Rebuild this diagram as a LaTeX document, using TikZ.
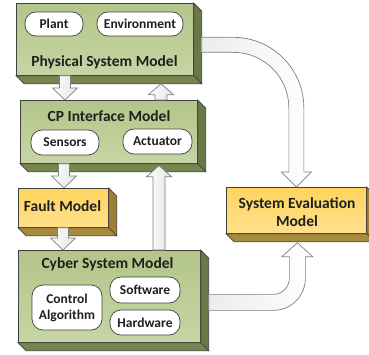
\documentclass[tikz,border=0pt]{standalone}
\usepackage{fontspec}
\setmainfont{Carlito}
\usetikzlibrary{calc}
\definecolor{edge}{HTML}{404040}
\definecolor{gtop}{HTML}{B3C589}
\definecolor{gbot}{HTML}{C6D5A4}
\definecolor{gside}{HTML}{6B7845}
\definecolor{gunder}{HTML}{77854F}
\definecolor{ytop}{HTML}{FFD45E}
\definecolor{ybot}{HTML}{FFE08C}
\definecolor{yside}{HTML}{9E8034}
\definecolor{yunder}{HTML}{A88A3C}
\definecolor{txt}{HTML}{1F1F1F}
\definecolor{agray}{HTML}{7F7F7F}
\tikzset{
  box/.style={draw=edge, line width=0.7pt, inner sep=0pt, anchor=north west},
  gbox/.style={box, top color=gtop, bottom color=gbot},
  ybox/.style={box, top color=ytop, bottom color=ybot},
  pill/.style={draw=edge, fill=white, line width=0.7pt, rounded corners=11pt,
    inner sep=0pt, text=txt, align=center,
    font=\fontsize{13.5}{16}\selectfont\bfseries},
  title/.style={text=txt, align=center, inner sep=0pt,
    font=\fontsize{15.5}{18}\selectfont\bfseries},
  barrow/.style={draw=agray, line width=0.7pt, left color=white, right color=gray!22},
  carrow/.style={draw=agray, line width=0.7pt, left color=gray!15, right color=white},
}
\newcommand\extr[3]{%
  \path[fill=#3, draw=edge, line width=0.7pt] (#1.south west) -- ++(8,8)
     -- ($(#1.south east)+(8,8)$) -- (#1.south east) -- cycle;
  \path[fill=#2, draw=edge, line width=0.7pt] (#1.north east) -- ++(8,8)
     -- ($(#1.south east)+(8,8)$) -- (#1.south east) -- cycle;}
\newcommand\blkdn[2]{%
  \path[barrow] let \p1=(#1), \p2=(#2) in
    ({\x1-5.5pt},\y1) -- ({\x1-5.5pt},{\y2+12pt}) -- ({\x1-12.5pt},{\y2+12pt})
    -- (\x1,\y2) -- ({\x1+12.5pt},{\y2+12pt}) -- ({\x1+5.5pt},{\y2+12pt})
    -- ({\x1+5.5pt},\y1) -- cycle;}
\newcommand\blkup[2]{%
  \path[barrow] let \p1=(#1), \p2=(#2) in
    ({\x1-6pt},\y1) -- ({\x1-6pt},{\y2-11pt}) -- ({\x1-12.5pt},{\y2-11pt})
    -- (\x1,\y2) -- ({\x1+12.5pt},{\y2-11pt}) -- ({\x1+6pt},{\y2-11pt})
    -- ({\x1+6pt},\y1) -- cycle;}
\begin{document}
\begin{tikzpicture}[x=1pt, y=-1pt]
\useasboundingbox (0,0) rectangle (369,355);
% boxes
\node[gbox, minimum width=177pt, minimum height=72pt] (phys) at (16,3) {};
\extr{phys}{gside}{gunder}
\node[gbox, minimum width=177pt, minimum height=63pt] (cp) at (20,100) {};
\extr{cp}{gside}{gunder}
\node[ybox, minimum width=90pt, minimum height=39pt] (fault) at (18,188) {};
\extr{fault}{yside}{yunder}
\node[gbox, minimum width=182pt, minimum height=92pt] (cyber) at (18,250) {};
\extr{cyber}{gside}{gunder}
\node[ybox, minimum width=140pt, minimum height=46pt] (eval) at (226,187) {};
\extr{eval}{yside}{yunder}
% titles
\node[title, anchor=base] (physT) at (104.5,67) {Physical System Model};
\node[title, anchor=base] (cpT) at (109,122) {CP Interface Model};
\node[title, anchor=base] (faultT) at (62.5,212) {Fault Model};
\node[title, anchor=base] (cyberT) at (107.5,268) {Cyber System Model};
\node[title] (evalT) at (297,212) {System Evaluation\\Model};
% inner items
\node[pill, minimum width=58pt, minimum height=24pt] (plant) at (54,24) {Plant};
\node[pill, minimum width=86pt, minimum height=24pt] (env) at (140,24) {Environment};
\node[pill, minimum width=68pt, minimum height=25pt] (sens) at (65,142.5) {Sensors};
\node[pill, minimum width=69pt, minimum height=25pt] (act) at (157.5,141.5) {Actuator};
\node[pill, minimum width=70pt, minimum height=45pt] (ctrl) at (67,307.5) {Control\\Algorithm};
\node[pill, minimum width=70pt, minimum height=26pt] (soft) at (145,290) {Software};
\node[pill, minimum width=70pt, minimum height=25pt] (hard) at (145,322.5) {Hardware};
% vertical block arrows
\coordinate (a1s) at ($(phys.south west)+(49,0)$);
\blkdn{a1s}{a1s |- cp.north}
\coordinate (a2s) at ($(cp.north west)+(141,0)$);
\blkup{a2s}{$(a2s |- phys.south)+(0,8)$}
\coordinate (a3s) at ($(cp.south west)+(44,0)$);
\blkdn{a3s}{a3s |- fault.north}
\coordinate (a4s) at ($(fault.south west)+(45,0)$);
\blkdn{a4s}{a4s |- cyber.north}
\coordinate (a5s) at ($(cyber.north west)+(141,0)$);
\blkup{a5s}{$(a5s |- cp.south)+(0,2)$}
% curved arrow: physical -> evaluation
\path[carrow] let \p1=($(phys.east)+(8,5.5)$), \p2=(eval.north) in
  (\x1,{\y1+7.5pt}) -- ({\x2-63pt},{\y1+7.5pt})
  arc[start angle=90, end angle=0, radius=70.5pt]
  -- ({\x2+7.5pt},{\y2+15pt}) -- ({\x2+15pt},{\y2+15pt}) -- (\x2,\y2)
  -- ({\x2-15pt},{\y2+15pt}) -- ({\x2-7.5pt},{\y2+15pt})
  -- ({\x2-7.5pt},{\y1-63pt})
  arc[start angle=0, end angle=90, radius=55.5pt]
  -- (\x1,{\y1-7.5pt}) -- cycle;
% curved arrow: cyber -> evaluation
\path[carrow] let \p1=($(cyber.east)+(8,6)$), \p2=($(eval.south)+(1,9)$) in
  (\x1,{\y1-8pt}) -- ({\x2-24pt},{\y1-8pt})
  arc[start angle=-90, end angle=0, radius=32pt]
  -- ({\x2+8pt},{\y2-14pt}) -- ({\x2+15.5pt},{\y2-14pt}) -- (\x2,\y2)
  -- ({\x2-15.5pt},{\y2-14pt}) -- ({\x2-8pt},{\y2-14pt})
  -- ({\x2-8pt},{\y1+24pt})
  arc[start angle=0, end angle=-90, radius=16pt]
  -- (\x1,{\y1+8pt}) -- cycle;
\end{tikzpicture}
\end{document}
